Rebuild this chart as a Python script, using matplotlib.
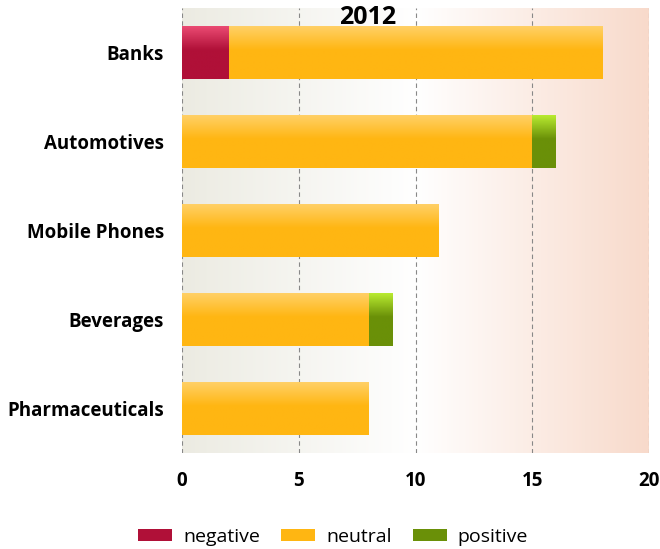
import numpy as np
import matplotlib.pyplot as plt
from matplotlib.colors import LinearSegmentedColormap
from matplotlib.patches import Patch

categories = ["Banks", "Automotives", "Mobile Phones", "Beverages", "Pharmaceuticals"]
negative = [2, 0, 0, 0, 0]
neutral = [16, 15, 11, 8, 8]
positive = [0, 1, 0, 1, 0]
ticks = [0, 5, 10, 15, 20]

font = "Open Sans"

# (top colour, body colour) for the glossy bar fills
shades = {
    "negative": ("#ea4a72", "#b01038"),
    "neutral": ("#ffd066", "#ffb612"),
    "positive": ("#b8ea30", "#6a9008"),
}

fig = plt.figure(figsize=(6.6, 5.49), dpi=100)
ax = fig.add_axes([0.2758, 0.175, 0.7075, 0.81])

# background fade: warm grey -> white -> peach
bg = LinearSegmentedColormap.from_list("bg", ["#ecebe2", "#ffffff", "#f8dacb"])
ax.imshow(np.linspace(0, 1, 256).reshape(1, -1), cmap=bg, aspect="auto",
          extent=[0, 20, 4.5, -0.5], zorder=0)

y = np.arange(len(categories))
left = np.zeros(len(categories))
for name, vals in [("negative", negative), ("neutral", neutral), ("positive", positive)]:
    bars = ax.barh(y, vals, left=left, height=0.59, color="none", zorder=2)
    top, body = shades[name]
    cmap = LinearSegmentedColormap.from_list(name, [(0, top), (0.45, body), (1, body)])
    grad = np.linspace(0, 1, 64).reshape(-1, 1)
    for b in bars:
        if b.get_width() <= 0:
            continue
        x0, y0, w, h = b.get_x(), b.get_y(), b.get_width(), b.get_height()
        ax.imshow(grad, cmap=cmap, aspect="auto", interpolation="bilinear",
                  extent=[x0, x0 + w, y0 + h, y0], zorder=3)
    left = left + np.array(vals)

ax.set_xlim(0, 20)
ax.set_ylim(4.5, -0.5)
ax.set_yticks(y)
ax.set_yticklabels(categories, fontsize=13.5, fontweight="bold", family=font)
ax.set_xticks(ticks)
ax.set_xticklabels([str(t) for t in ticks], fontsize=13.5, fontweight="bold", family=font)
ax.tick_params(length=0)
ax.tick_params(axis="x", pad=13)
ax.tick_params(axis="y", pad=13)
for s in ax.spines.values():
    s.set_visible(False)
for t in ticks:
    ax.axvline(t, color="#888888", lw=0.8, ls=(0, (4, 3)), zorder=1)

fig.text(368 / 660, 1 - 17.5 / 549, "2012", ha="center", va="center",
         fontsize=18, fontweight="bold", family=font, zorder=5)

handles = [Patch(facecolor=shades[k][1], label=k) for k in ["negative", "neutral", "positive"]]
fig.legend(handles=handles, loc="center", bbox_to_anchor=(333 / 660, 1 - 537 / 549),
           ncol=3, frameon=False, prop={"family": font, "size": 14},
           handlelength=1.75, handleheight=0.55, columnspacing=1.08, handletextpad=0.57)

fig.savefig("out.png", dpi=100)
